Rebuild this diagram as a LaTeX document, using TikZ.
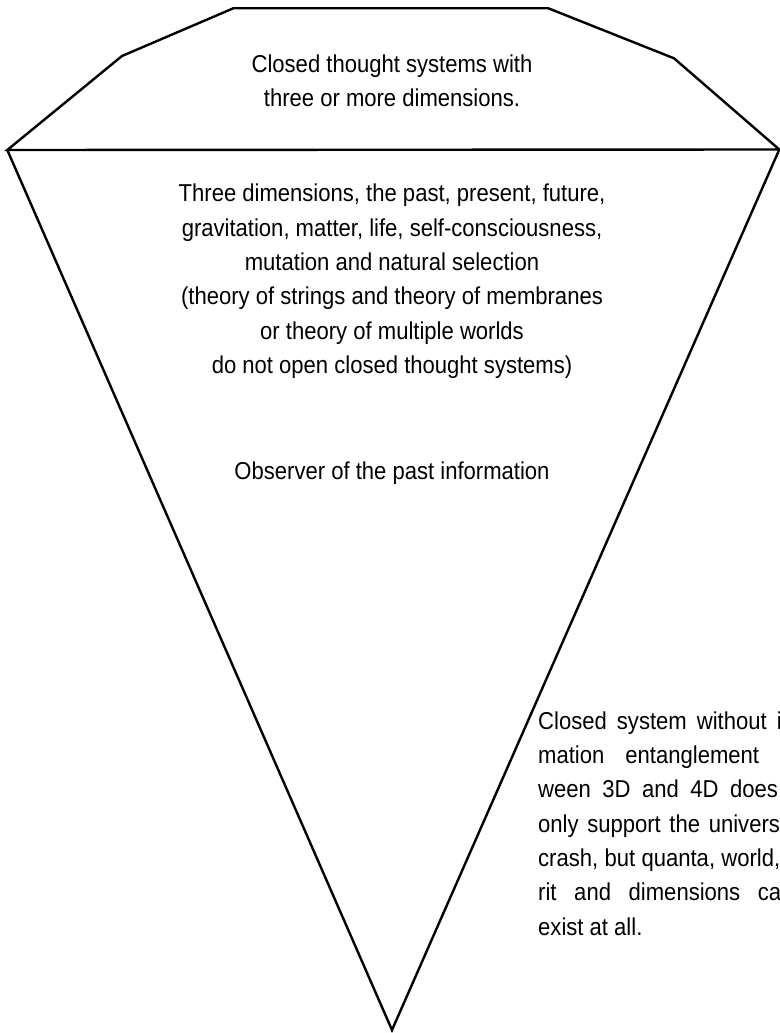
\documentclass[tikz,border=0pt]{standalone}
\usepackage{fontspec}
\setmainfont{Liberation Sans}[FakeStretch=0.904]
\begin{document}
\begin{tikzpicture}[x=1pt,y=-1pt,
  edge/.style={line width=2.4pt, line join=miter},
  txt/.style={inner sep=0pt, anchor=base, font=\fontsize{24.4}{34.3}\selectfont},
  rtxt/.style={txt, anchor=base west}]
\useasboundingbox (0,0) rectangle (779,1033);
% outline points
\coordinate (L) at (7.3,150);
\coordinate (SL) at (122,56);
\coordinate (TL) at (233.3,8.3);
\coordinate (TR) at (548.3,8.3);
\coordinate (SR) at (674,58.3);
\coordinate (R) at (779.3,149.5);
\coordinate (B) at (392,1030);
\draw[edge] (L) -- (SL) -- (TL) -- (TR) -- (SR) -- (R) -- cycle;
\draw[edge] (L) -- (B) -- (R);
% top block
\node[txt] (t1) at (392,72) {Closed thought systems with};
\node[txt] (t2) at (392,106.5) {three or more dimensions.};
% middle block
\node[txt] (m1) at (392,201.7) {Three dimensions, the past, present, future,};
\node[txt] (m2) at (392,236) {gravitation, matter, life, self-consciousness,};
\node[txt] (m3) at (392,270.3) {mutation and natural selection};
\node[txt] (m4) at (392,304.6) {(theory of strings and theory of membranes};
\node[txt] (m5) at (392,339) {or theory of multiple worlds};
\node[txt] (m6) at (392,373.3) {do not open closed thought systems)};
\node[txt] (obs) at (392,479) {Observer of the past information};
% right block (cut by the border)
\begin{scope}
\clip (0,0) rectangle (779,1033);
\node[rtxt] (r1) at (538,729.3) {\makebox[289pt][s]{Closed system without infor-}};
\node[rtxt] (r2) at (538,763.6) {\makebox[280pt][s]{mation entanglement bet-}};
\node[rtxt] (r3) at (538,797.9) {\makebox[282pt][s]{ween 3D and 4D does not}};
\node[rtxt] (r4) at (538,832.2) {\makebox[254pt][s]{only support the universe}};
\node[rtxt] (r5) at (538,866.5) {\makebox[284pt][s]{crash, but quanta, world, spi-}};
\node[rtxt] (r6) at (538,900.8) {\makebox[286pt][s]{rit and dimensions cannot}};
\node[rtxt] (r7) at (538,935.1) {exist at all.};
\end{scope}
\end{tikzpicture}
\end{document}
